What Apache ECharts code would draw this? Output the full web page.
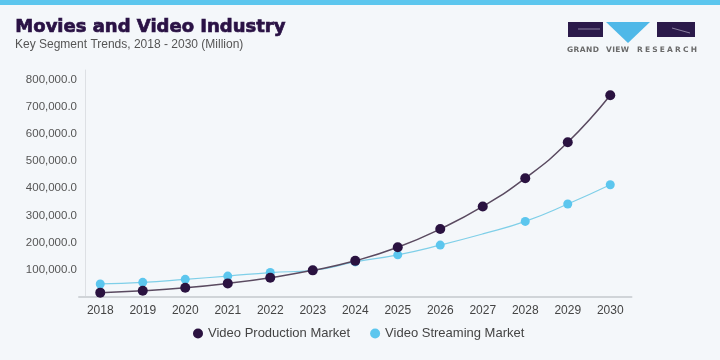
<!DOCTYPE html>
<html><head><meta charset="utf-8">
<script src="https://cdn.jsdelivr.net/npm/echarts@6/dist/echarts.min.js"></script>
<style>html,body{margin:0;padding:0;background:#f4f7fa;}#c{width:720px;height:360px;}</style>
</head><body><div id="c"></div>
<script>
const years = ['2018','2019','2020','2021','2022','2023','2024','2025','2026','2027','2028','2029','2030'];
const production = [16000, 23000, 34000, 50000, 71000, 98000, 133000, 183000, 250000, 333000, 437000, 569000, 742000];
const streaming = [48000, 54000, 65000, 77000, 90000, 98000, 129000, 155000, 191000, 232000, 278000, 342000, 413000];
const yTicks = { min: 0, max: 835000, interval: 100000 };

const chart = echarts.init(document.getElementById('c'));
const fmt = v => v.toLocaleString('en-US', {minimumFractionDigits:1, maximumFractionDigits:1});

// logo wordmark with letter spacing fitted to a target width
const logoFont = 'bold 7.5px "DejaVu Sans", sans-serif';
const ctx = document.createElement('canvas').getContext('2d');
ctx.font = logoFont;
const logoText = [];
function spaced(word, x0, x1) {
  const widths = [...word].map(ch => ctx.measureText(ch).width);
  const total = widths.reduce((a, b) => a + b, 0);
  const gap = Math.max(0, (x1 - x0 - total) / (word.length - 1));
  let x = x0;
  for (let i = 0; i < word.length; i++) {
    logoText.push({ type: 'text', x: x, y: 46,
      style: { text: word[i], font: logoFont, fill: '#6a6a6a' } });
    x += widths[i] + gap;
  }
}
spaced('GRAND', 567, 599);
spaced('VIEW', 606, 629);
spaced('RESEARCH', 637, 697);

chart.setOption({
  backgroundColor: '#f4f7fa',
  animation: false,
  textStyle: { fontFamily: 'Liberation Sans, Arial, sans-serif' },
  graphic: [
    { type: 'rect', shape: { x: 0, y: 0, width: 720, height: 5 }, style: { fill: '#5cc6ee' } },
    { type: 'text', left: 15, top: 18, style: { text: 'Movies and Video Industry', font: '900 18px "DejaVu Sans", sans-serif', fill: '#2a1245', stroke: '#2a1245', lineWidth: 0.7 } },
    { type: 'text', left: 15, top: 39, style: { text: 'Key Segment Trends, 2018 - 2030 (Million)', font: '12px "Liberation Sans", Arial, sans-serif', fill: '#555' } },
    { type: 'rect', shape: { x: 568, y: 22, width: 35, height: 15 }, style: { fill: '#2b1a4a' } },
    { type: 'line', shape: { x1: 578, y1: 29, x2: 600, y2: 29 }, style: { stroke: '#8a80a0', lineWidth: 1 } },
    { type: 'polygon', shape: { points: [[606, 22], [650, 22], [628, 43]] }, style: { fill: '#4fb8e8' } },
    { type: 'rect', shape: { x: 657, y: 22, width: 38, height: 15 }, style: { fill: '#2b1a4a' } },
    { type: 'line', shape: { x1: 672, y1: 28, x2: 690, y2: 33 }, style: { stroke: '#8a80a0', lineWidth: 1 } },
    ...logoText
  ],
  grid: { left: 79, right: 88.5, top: 70, bottom: 63, containLabel: false },
  legend: {
    bottom: 15, left: 188, itemGap: 20, itemWidth: 10, itemHeight: 10,
    icon: 'circle',
    textStyle: { color: '#444', fontSize: 13 },
    data: ['Video Production Market', 'Video Streaming Market']
  },
  xAxis: {
    type: 'category', data: years, boundaryGap: true,
    axisLine: { lineStyle: { color: '#d0d4d8', width: 2 } },
    axisTick: { show: false },
    axisLabel: { color: '#444', fontSize: 12, margin: 8 }
  },
  yAxis: {
    type: 'value', min: yTicks.min, max: yTicks.max, interval: yTicks.interval,
    offset: -6,
    axisLine: { show: true, lineStyle: { color: '#dde0e4', width: 1 } },
    axisTick: { show: false },
    splitLine: { show: false },
    axisLabel: { color: '#555', fontSize: 11.5, margin: 8, showMinLabel: false, showMaxLabel: false, formatter: fmt }
  },
  series: [
    { name: 'Video Streaming Market', type: 'line', smooth: true, data: streaming.map((v,i)=> i===9 ? {value:v, symbol:'none'} : v),
      symbol: 'circle', symbolSize: 9, itemStyle: { color: '#5cc6ee' }, lineStyle: { color: '#7fcfe8', width: 1.2 } },
    { name: 'Video Production Market', type: 'line', smooth: true, data: production,
      symbol: 'circle', symbolSize: 10, itemStyle: { color: '#2a1240' }, lineStyle: { color: '#5a4a60', width: 1.5 } }
  ]
});
</script></body></html>
